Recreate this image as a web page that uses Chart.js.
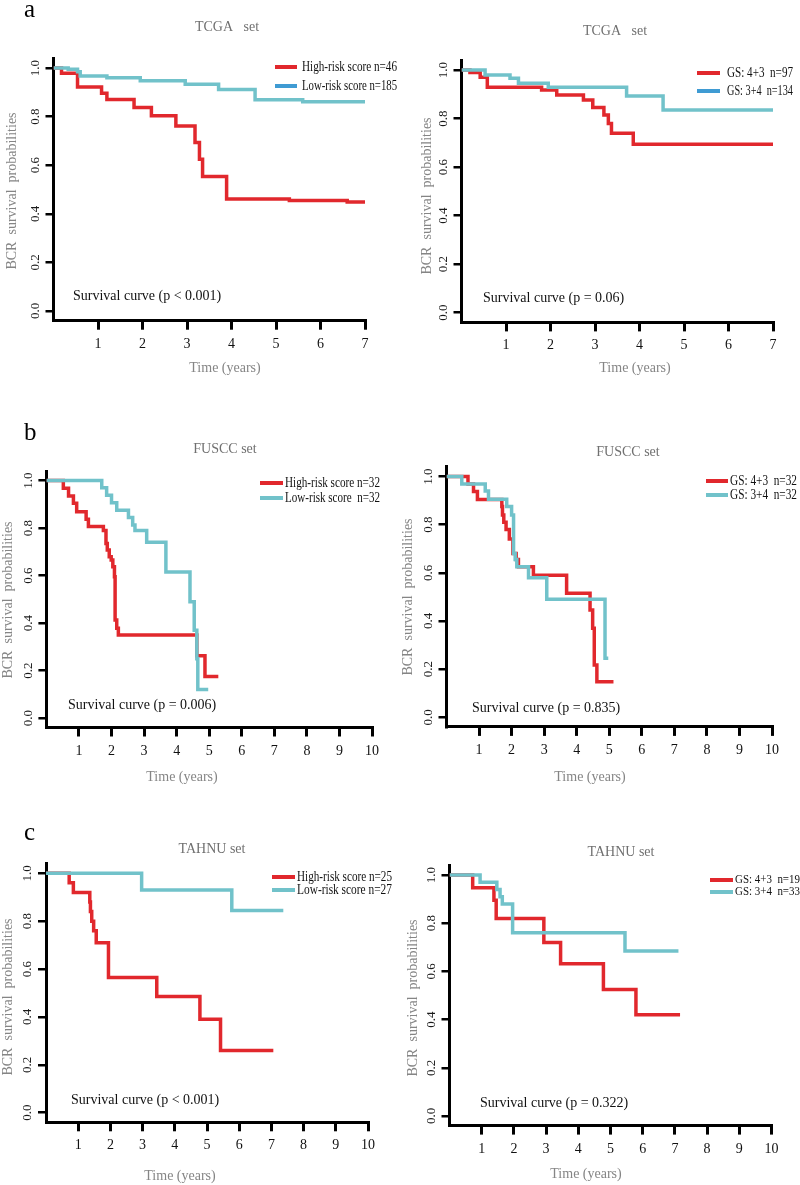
<!DOCTYPE html>
<html>
<head>
<meta charset="utf-8">
<title>BCR survival curves</title>
<script src="https://cdn.jsdelivr.net/npm/chart.js@4.4.0/dist/chart.umd.min.js"></script>
<style>
  html, body { margin: 0; padding: 0; background: #fff; }
  #page { position: relative; width: 800px; height: 1185px; overflow: hidden; }
  #page canvas { position: absolute; }
</style>
</head>
<body>
<div id="page">
  <canvas id="aL"></canvas><canvas id="aR"></canvas>
  <canvas id="bL"></canvas><canvas id="bR"></canvas>
  <canvas id="cL"></canvas><canvas id="cR"></canvas>
</div>
<script>
// ---- tick labels ----
const yTicks = [0, 0.2, 0.4, 0.6, 0.8, 1.0];
const xTicks7 = [1, 2, 3, 4, 5, 6, 7];
const xTicks10 = [1, 2, 3, 4, 5, 6, 7, 8, 9, 10];

// ---- a: TCGA set ----
const tcgaHighT = [0, 0.18, 0.54, 1.08, 1.2, 1.81, 2.2, 2.75, 3.18, 3.28, 3.35, 3.89, 5.3, 6.6, 7.0];
const tcgaHighS = [1, 0.978, 0.922, 0.896, 0.87, 0.837, 0.804, 0.761, 0.693, 0.624, 0.553, 0.461, 0.455, 0.449, 0.449];
const tcgaLowT = [0, 0.33, 0.54, 0.6, 1.2, 1.95, 2.96, 3.71, 4.53, 5.6, 7.0];
const tcgaLowS = [1, 0.995, 0.985, 0.967, 0.96, 0.948, 0.933, 0.912, 0.869, 0.861, 0.861];
const tcgaGs43T = [0, 0.19, 0.42, 0.58, 1.8, 2.14, 2.74, 2.95, 3.2, 3.3, 3.37, 3.86, 7.0];
const tcgaGs43S = [1, 0.99, 0.97, 0.929, 0.918, 0.897, 0.876, 0.846, 0.815, 0.78, 0.739, 0.694, 0.694];
const tcgaGs34T = [0, 0.53, 1.09, 1.28, 1.95, 3.71, 4.53, 7.0];
const tcgaGs34S = [1, 0.979, 0.966, 0.945, 0.929, 0.893, 0.835, 0.835];

// ---- b: FUSCC set ----
const fusccHighT = [0, 0.52, 0.68, 0.83, 0.93, 1.22, 1.29, 1.75, 1.83, 1.87, 1.93, 1.99, 2.04, 2.09, 2.11, 2.16, 2.21, 4.62, 4.87, 5.28];
const fusccHighS = [1, 0.967, 0.935, 0.904, 0.868, 0.837, 0.806, 0.79, 0.735, 0.707, 0.679, 0.665, 0.637, 0.595, 0.413, 0.378, 0.349, 0.262, 0.175, 0.175];
const fusccLowT = [0, 1.7, 1.85, 2.0, 2.16, 2.52, 2.65, 2.72, 3.08, 3.67, 4.41, 4.54, 4.62, 4.65, 4.97];
const fusccLowS = [1, 0.969, 0.938, 0.906, 0.875, 0.844, 0.813, 0.79, 0.74, 0.615, 0.49, 0.37, 0.25, 0.12, 0.12];
const fusccGs43T = [0, 0.66, 0.83, 0.95, 1.7, 1.72, 1.76, 1.83, 1.93, 2.04, 2.14, 2.21, 2.67, 3.69, 4.41, 4.49, 4.54, 4.62, 5.13];
const fusccGs43S = [1, 0.969, 0.938, 0.905, 0.875, 0.84, 0.81, 0.78, 0.74, 0.68, 0.655, 0.625, 0.59, 0.515, 0.446, 0.37, 0.217, 0.148, 0.148];
const fusccGs34T = [0, 0.47, 1.19, 1.29, 1.85, 2.0, 2.06, 2.11, 2.16, 2.52, 3.08, 4.87, 4.97];
const fusccGs34S = [1, 0.969, 0.94, 0.906, 0.875, 0.84, 0.68, 0.655, 0.625, 0.58, 0.49, 0.245, 0.245];

// ---- c: TAHNU set ----
const tahnuHighT = [0, 0.72, 0.85, 1.36, 1.38, 1.42, 1.48, 1.56, 1.94, 3.44, 4.78, 5.42, 7.06];
const tahnuHighS = [1, 0.96, 0.92, 0.88, 0.84, 0.8, 0.76, 0.71, 0.565, 0.485, 0.39, 0.26, 0.26];
const tahnuLowT = [0, 2.97, 5.77, 7.37];
const tahnuLowS = [1, 0.93, 0.845, 0.845];
const tahnuGs43T = [0, 0.72, 1.38, 1.45, 2.93, 3.45, 4.78, 5.79, 7.16];
const tahnuGs43S = [1, 0.947, 0.895, 0.82, 0.72, 0.632, 0.525, 0.42, 0.42];
const tahnuGs34T = [0, 0.95, 1.47, 1.57, 1.64, 1.96, 5.45, 7.11];
const tahnuGs34S = [1, 0.97, 0.94, 0.91, 0.88, 0.76, 0.685, 0.685];

// ---- labels ----
const riskLabelsA = ['High-risk score n=46', 'Low-risk score n=185'];
const gsLabelsA = ['GS: 4+3  n=97', 'GS: 3+4  n=134'];
const riskLabelsB = ['High-risk score n=32', 'Low-risk score  n=32'];
const gsLabelsB = ['GS: 4+3  n=32', 'GS: 3+4  n=32'];
const riskLabelsC = ['High-risk score n=25', 'Low-risk score n=27'];
const gsLabelsC = ['GS: 4+3  n=19', 'GS: 3+4  n=33'];
const pValues = ['p < 0.001', 'p = 0.06', 'p = 0.006', 'p = 0.835', 'p < 0.001', 'p = 0.322'];

const RED = '#e1282d';
const CYAN = '#71c2ca';
const BLUE_LEG = '#3f9bd3';
const SERIF = '"Liberation Serif", "DejaVu Serif", serif';

Chart.defaults.font.family = SERIF;

const panels = [
  { id: 'aL', box: [0, 0, 400, 390], area: [53.5, 365, 58.3, 320.7], xMax: 7, xTicks: xTicks7,
    red: [tcgaHighT, tcgaHighS], cyan: [tcgaLowT, tcgaLowS], labels: riskLabelsA, legCyan: BLUE_LEG,
    letter: 'a', letterAt: [24, 17], title: 'TCGA   set', titleAt: [227, 27], p: pValues[0], noteAt: [73, 296],
    xTitleAt: [225, 368], yTitleAt: [12, 191], leg: { x1: 275, x2: 297, tx: 302, y: [67, 86], size: 14, w: 95 } },
  { id: 'aR', box: [400, 0, 400, 390], area: [461.5, 773, 60.3, 322.4], xMax: 7, xTicks: xTicks7,
    red: [tcgaGs43T, tcgaGs43S], cyan: [tcgaGs34T, tcgaGs34S], labels: gsLabelsA, legCyan: BLUE_LEG,
    title: 'TCGA   set', titleAt: [615, 31], p: pValues[1], noteAt: [483, 298],
    xTitleAt: [635, 368], yTitleAt: [427, 196], leg: { x1: 697, x2: 720, tx: 727, y: [73, 91], size: 14, w: 66 } },
  { id: 'bL', box: [0, 390, 400, 400], area: [46.4, 372, 471, 727.5], xMax: 10, xTicks: xTicks10,
    red: [fusccHighT, fusccHighS], cyan: [fusccLowT, fusccLowS], labels: riskLabelsB, legCyan: CYAN,
    letter: 'b', letterAt: [24, 440], title: 'FUSCC set', titleAt: [225, 449], p: pValues[2], noteAt: [68, 705],
    xTitleAt: [182, 777], yTitleAt: [8, 600], leg: { x1: 260, x2: 283, tx: 285, y: [483, 498], size: 14, w: 95 } },
  { id: 'bR', box: [400, 390, 400, 400], area: [446.5, 772, 466.9, 726.9], xMax: 10, xTicks: xTicks10,
    red: [fusccGs43T, fusccGs43S], cyan: [fusccGs34T, fusccGs34S], labels: gsLabelsB, legCyan: CYAN,
    title: 'FUSCC set', titleAt: [628, 452], p: pValues[3], noteAt: [472, 708],
    xTitleAt: [590, 777], yTitleAt: [408, 597], leg: { x1: 706, x2: 728, tx: 730, y: [481, 495], size: 14, w: 67 } },
  { id: 'cL', box: [0, 790, 400, 395], area: [46, 368, 863.7, 1122.3], xMax: 10, xTicks: xTicks10,
    red: [tahnuHighT, tahnuHighS], cyan: [tahnuLowT, tahnuLowS], labels: riskLabelsC, legCyan: CYAN,
    letter: 'c', letterAt: [24, 840], title: 'TAHNU set', titleAt: [212, 849], p: pValues[4], noteAt: [71, 1100],
    xTitleAt: [180, 1176], yTitleAt: [8, 997], leg: { x1: 272, x2: 295, tx: 297, y: [877, 890], size: 14, w: 95 } },
  { id: 'cR', box: [400, 790, 400, 395], area: [449.5, 771.5, 865.4, 1125.6], xMax: 10, xTicks: xTicks10,
    red: [tahnuGs43T, tahnuGs43S], cyan: [tahnuGs34T, tahnuGs34S], labels: gsLabelsC, legCyan: CYAN,
    title: 'TAHNU set', titleAt: [621, 852], p: pValues[5], noteAt: [480, 1103],
    xTitleAt: [586, 1174], yTitleAt: [413, 998], leg: { x1: 710, x2: 733, tx: 735, y: [880, 892], size: 13, w: 65 } }
];

const Y_W = 12;
const X_H = 40;

function points(t, s) {
  return t.map((v, i) => ({ x: v, y: s[i] }));
}

function panelText(p) {
  return {
    id: 'panelText',
    afterDraw(chart) {
      const ctx = chart.ctx;
      const ox = p.box[0], oy = p.box[1];
      const ys = chart.scales.y;
      ctx.save();
      ctx.textBaseline = 'middle';

      // rotated y tick labels
      ctx.fillStyle = '#1a1a1a';
      ctx.font = '13px ' + SERIF;
      ctx.textAlign = 'center';
      yTicks.forEach(v => {
        ctx.save();
        ctx.translate(ys.right - 18, ys.getPixelForValue(v));
        ctx.rotate(-Math.PI / 2);
        ctx.fillText(v.toFixed(1), 0, 0);
        ctx.restore();
      });

      // panel letter
      if (p.letter) {
        ctx.save();
        ctx.textAlign = 'left';
        ctx.textBaseline = 'alphabetic';
        ctx.fillStyle = '#000';
        ctx.font = '25px ' + SERIF;
        ctx.fillText(p.letter, p.letterAt[0] - ox, p.letterAt[1] - oy);
        ctx.restore();
      }

      // title and axis titles
      ctx.font = '14px ' + SERIF;
      ctx.fillStyle = '#707070';
      ctx.fillText(p.title, p.titleAt[0] - ox, p.titleAt[1] - oy);
      ctx.fillStyle = '#858585';
      ctx.fillText('Time (years)', p.xTitleAt[0] - ox, p.xTitleAt[1] - oy);
      ctx.save();
      ctx.translate(p.yTitleAt[0] - ox, p.yTitleAt[1] - oy);
      ctx.rotate(-Math.PI / 2);
      ctx.fillText('BCR  survival  probabilities', 0, 0);
      ctx.restore();

      // p-value note
      ctx.fillStyle = '#111';
      ctx.textAlign = 'left';
      ctx.fillText('Survival curve (' + p.p + ')', p.noteAt[0] - ox, p.noteAt[1] - oy);

      // legend
      const lg = p.leg;
      const cols = [RED, p.legCyan];
      ctx.font = lg.size + 'px ' + SERIF;
      p.labels.forEach((lab, i) => {
        const y = lg.y[i] - oy;
        ctx.strokeStyle = cols[i];
        ctx.lineWidth = 4;
        ctx.lineCap = 'butt';
        ctx.beginPath();
        ctx.moveTo(lg.x1 - ox, y);
        ctx.lineTo(lg.x2 - ox, y);
        ctx.stroke();
        const k = lg.w / ctx.measureText(lab).width;
        ctx.save();
        ctx.translate(lg.tx - ox, y);
        ctx.scale(k, 1);
        ctx.fillStyle = '#111';
        ctx.fillText(lab, 0, 0);
        ctx.restore();
      });
      ctx.restore();
    }
  };
}

function makeChart(p) {
  const [cx, cy, cw, ch] = p.box;
  const [left, right, top, bottom] = p.area;
  const canvas = document.getElementById(p.id);
  canvas.width = cw;
  canvas.height = ch;
  canvas.style.left = cx + 'px';
  canvas.style.top = cy + 'px';

  new Chart(canvas, {
    type: 'line',
    data: {
      datasets: [
        { data: points(p.red[0], p.red[1]), borderColor: RED, order: 2 },
        { data: points(p.cyan[0], p.cyan[1]), borderColor: CYAN, order: 1 }
      ]
    },
    options: {
      responsive: false,
      animation: false,
      devicePixelRatio: 1,
      events: [],
      elements: {
        line: { borderWidth: 3.5, stepped: 'before', tension: 0, fill: false, borderCapStyle: 'butt' },
        point: { radius: 0 }
      },
      layout: {
        padding: {
          left: left - cx - Y_W,
          top: top - cy,
          right: cx + cw - right,
          bottom: cy + ch - bottom - X_H
        }
      },
      plugins: {
        legend: { display: false },
        tooltip: { enabled: false },
        title: { display: false }
      },
      scales: {
        x: {
          type: 'linear',
          min: 0,
          max: p.xMax,
          bounds: 'data',
          afterBuildTicks: sc => { sc.ticks = p.xTicks.map(v => ({ value: v })); },
          afterFit: sc => { sc.height = X_H; sc.paddingLeft = 0; sc.paddingRight = 0; },
          border: { display: true, color: '#000', width: 3 },
          grid: { drawOnChartArea: false, drawTicks: true, tickLength: 9, color: '#000', lineWidth: 3 },
          ticks: { color: '#111', font: { size: 14 }, padding: 6, maxRotation: 0, autoSkip: false }
        },
        y: {
          type: 'linear',
          min: -0.04,
          max: 1.04,
          bounds: 'data',
          afterBuildTicks: sc => { sc.ticks = yTicks.map(v => ({ value: v })); },
          afterFit: sc => { sc.width = Y_W; sc.paddingTop = 0; sc.paddingBottom = 0; },
          border: { display: true, color: '#000', width: 3 },
          grid: { drawOnChartArea: false, drawTicks: true, tickLength: 8, color: '#000', lineWidth: 2.5 },
          ticks: { display: false }
        }
      }
    },
    plugins: [panelText(p)]
  });
}

panels.forEach(makeChart);
</script>
</body>
</html>
